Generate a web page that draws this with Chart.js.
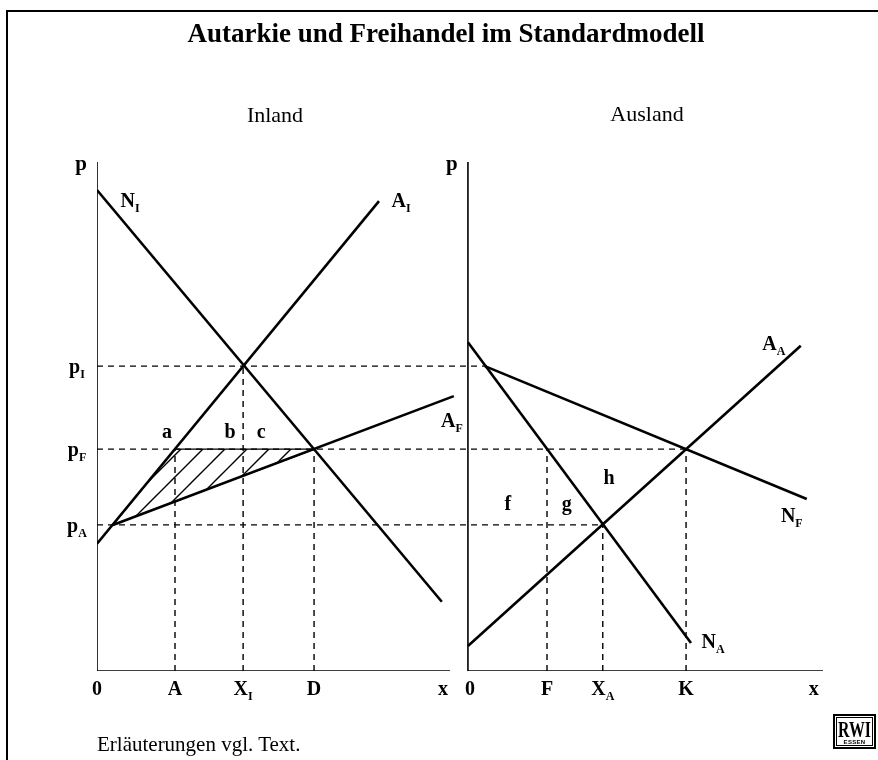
<!DOCTYPE html>
<html><head><meta charset="utf-8">
<script src="https://cdn.jsdelivr.net/npm/chart.js@4.4.1/dist/chart.umd.min.js"></script>
<style>
html,body{margin:0;padding:0;background:#fff;overflow:hidden;}
#wrap{position:relative;width:878px;height:760px;overflow:hidden;background:#fff;}
#c{position:absolute;left:0;top:0;}
.t{position:absolute;font-family:'Liberation Serif','Times New Roman',serif;color:#000;white-space:nowrap;line-height:1;}
#frame{position:absolute;left:6px;top:10px;width:900px;height:800px;border-left:2px solid #000;border-top:2px solid #000;}
#rwi{position:absolute;left:833px;top:714px;width:43px;height:35px;border:2px solid #000;box-sizing:border-box;background:#fff;overflow:hidden;}
#rwi .in{position:absolute;left:1px;top:1px;right:1px;bottom:1px;border:1px solid #000;}
#rwi .big{position:absolute;left:-11px;width:61px;top:1px;text-align:center;font:bold 24px 'Liberation Serif',serif;line-height:1;transform:scaleX(0.66);transform-origin:50% 0;}
#rwi .sm{position:absolute;left:0;width:39px;top:23px;text-align:center;font:bold 6px 'Liberation Sans',sans-serif;line-height:1;letter-spacing:0.3px;}
</style></head>
<body>
<div id="wrap">
<canvas id="c" width="878" height="760"></canvas>
<div id="frame"></div>
<div class="t" style="left:46px;width:800px;top:20px;text-align:center;font-size:27px;font-weight:bold;">Autarkie und Freihandel im Standardmodell</div>
<div class="t" style="left:175px;width:200px;top:104px;text-align:center;font-size:22px;">Inland</div>
<div class="t" style="left:547px;width:200px;top:103px;text-align:center;font-size:22px;">Ausland</div>
<div class="t" style="left:97px;top:734px;font-size:21px;">Erläuterungen vgl. Text.</div>
<div id="rwi"><div class="in"></div><div class="big">RWI</div><div class="sm">ESSEN</div></div>
</div>
<script>
// ---------- DATA (panel-local units: quantity x, price p) ----------
// price levels (shared by both panels)
const priceLevels = [5.99, 4.36, 2.87];          // p_I, p_F, p_A
const priceMain   = ['p', 'p', 'p'];
const priceSub    = ['I', 'F', 'A'];

// Inland panel quantities
const inlandTicks    = [0, 2.21, 4.14, 6.15, 9.8];
const inlandTickMain = ['0', 'A', 'X', 'D', 'x'];
const inlandTickSub  = ['', '', 'I', '', ''];

// Ausland panel quantities
const auslandTicks    = [0, 2.24, 3.82, 6.18, 9.8];
const auslandTickMain = ['0', 'F', 'X', 'K', 'x'];
const auslandTickSub  = ['', '', 'A', '', ''];

// curves (start, end)
const curveNI = [[0, 9.45], [9.77, 1.36]];     // Nachfrage Inland
const curveAI = [[0, 2.50], [7.99, 9.23]];     // Angebot Inland
const curveAF = [[0.45, 2.87], [10.11, 5.40]]; // Angebot bei Freihandel
const curveNA = [[0, 6.46], [6.32, 0.55]];     // Nachfrage Ausland
const curveAA = [[0, 0.49], [9.43, 6.39]];     // Angebot Ausland
const curveNF = [[0.48, 5.99], [9.60, 3.38]];  // Nachfrage bei Freihandel

// hatched area (Inland)
const hatchTriangle = [[0.45, 2.87], [2.21, 4.36], [6.15, 4.36], [0.45, 2.87]];

// axis extents
const yTop = 10;
const inlandXMax = 10.0;
const auslandXMax = 10.06;

// ---------- LAYOUT CONSTANTS ----------
const OFF = 10.51;          // Ausland origin on the shared x scale
const X_MAX = 20.57;
const FONT = "'Liberation Serif','Times New Roman',serif";

const pts = (arr, off) => arr.map(([x, y]) => ({x: x + (off || 0), y}));

function ds(data, width, dash, extra) {
  return Object.assign({
    data, borderColor: '#000', borderWidth: width, borderDash: dash || [],
    pointRadius: 0, pointHoverRadius: 0, fill: false, tension: 0,
    borderCapStyle: 'butt', borderJoinStyle: 'miter'
  }, extra || {});
}

// hatch pattern
const pc = document.createElement('canvas');
pc.width = 22; pc.height = 22;
const pg = pc.getContext('2d');
pg.strokeStyle = '#000'; pg.lineWidth = 1.4;
pg.beginPath();
pg.moveTo(0, 22); pg.lineTo(22, 0);
pg.moveTo(-11, 11); pg.lineTo(11, -11);
pg.moveTo(11, 33); pg.lineTo(33, 11);
pg.stroke();
const mainCtx = document.getElementById('c').getContext('2d');
const hatch = mainCtx.createPattern(pc, 'repeat');
if (hatch.setTransform) hatch.setTransform(new DOMMatrix([1, 0, 0, 1, 14, 0]));

const [pI, pF, pA] = priceLevels;
const xA = inlandTicks[1], xXI = inlandTicks[2], xD = inlandTicks[3];
const xF = auslandTicks[1], xXA = auslandTicks[2], xK = auslandTicks[3];

const DASH = [6, 5];
const datasets = [
  ds(pts(curveNI), 2.6),
  ds(pts(curveAI), 2.6),
  ds(pts(curveAF), 2.6),
  ds(pts(curveNA, OFF), 2.6),
  ds(pts(curveAA, OFF), 2.6),
  ds(pts(curveNF, OFF), 2.6),
  ds(pts(hatchTriangle), 1.4, [], {fill: 'shape', backgroundColor: hatch}),
  // axes
  ds([{x: 0, y: yTop}, {x: 0, y: 0}, {x: inlandXMax, y: 0}], 1.6),
  ds([{x: OFF, y: yTop}, {x: OFF, y: 0}, {x: OFF + auslandXMax, y: 0}], 1.6),
  // horizontal guides
  ds([{x: 0, y: pI}, {x: OFF + curveNF[0][0], y: pI}], 1.4, DASH),
  ds([{x: 0, y: pF}, {x: OFF + xK, y: pF}], 1.4, DASH),
  ds([{x: 0, y: pA}, {x: OFF + xXA, y: pA}], 1.4, DASH),
  // vertical guides
  ds([{x: xA, y: 0}, {x: xA, y: pF}], 1.4, DASH),
  ds([{x: xXI, y: 0}, {x: xXI, y: pI}], 1.4, DASH),
  ds([{x: xD, y: 0}, {x: xD, y: pF}], 1.4, DASH),
  ds([{x: OFF + xF, y: 0}, {x: OFF + xF, y: pF}], 1.4, DASH),
  ds([{x: OFF + xXA, y: 0}, {x: OFF + xXA, y: pA}], 1.4, DASH),
  ds([{x: OFF + xK, y: 0}, {x: OFF + xK, y: pF}], 1.4, DASH)
];

function txt(ctx, main, sub, cx, cy, size, align, bold) {
  const w = bold === false ? '' : 'bold ';
  const ss = Math.round(size * 0.62);
  ctx.font = w + size + 'px ' + FONT;
  const wm = ctx.measureText(main).width;
  ctx.font = w + ss + 'px ' + FONT;
  const ws = sub ? ctx.measureText(sub).width : 0;
  const tw = wm + ws;
  let x0 = align === 'right' ? cx - tw : align === 'left' ? cx : cx - tw / 2;
  const base = cy + size * 0.33;
  ctx.textAlign = 'left'; ctx.textBaseline = 'alphabetic'; ctx.fillStyle = '#000';
  ctx.font = w + size + 'px ' + FONT;
  ctx.fillText(main, x0, base);
  if (sub) { ctx.font = w + ss + 'px ' + FONT; ctx.fillText(sub, x0 + wm, base + size * 0.25); }
}

const labelPlugin = {
  id: 'labels',
  afterDraw(chart) {
    const ctx = chart.ctx, xs = chart.scales.x, ys = chart.scales.y;
    const X = v => xs.getPixelForValue(v), Y = v => ys.getPixelForValue(v);
    ctx.save();
    // axis titles p
    txt(ctx, 'p', '', X(0) - 16, Y(yTop) + 1, 21, 'center');
    txt(ctx, 'p', '', X(OFF) - 16, Y(yTop) + 1, 21, 'center');
    // price tick labels
    priceLevels.forEach((v, i) => txt(ctx, priceMain[i], priceSub[i], X(0) - 20, Y(v), 20, 'center'));
    // quantity tick labels
    const yb = Y(0) + 17;
    inlandTicks.forEach((v, i) => txt(ctx, inlandTickMain[i], inlandTickSub[i], X(v), yb, 20, 'center'));
    auslandTicks.forEach((v, i) => txt(ctx, auslandTickMain[i], auslandTickSub[i], X(OFF + v) + (i === 0 ? 2 : 0), yb, 20, 'center'));
    // curve labels, anchored to curve ends
    const lab = (curve, end, off, main, sub, dx, dy) =>
      txt(ctx, main, sub, X(curve[end][0] + off) + dx, Y(curve[end][1]) + dy, 20, 'center');
    lab(curveNI, 0, 0, 'N', 'I', 33, 10);
    lab(curveAI, 1, 0, 'A', 'I', 22, -1);
    lab(curveAF, 1, 0, 'A', 'F', -2, 24);
    lab(curveAA, 1, OFF, 'A', 'A', -27, -2);
    lab(curveNF, 1, OFF, 'N', 'F', -15, 16);
    lab(curveNA, 1, OFF, 'N', 'A', 22, -2);
    // area labels
    txt(ctx, 'a', '', X(1.98), Y(4.70), 20, 'center');
    txt(ctx, 'b', '', X(3.77), Y(4.70), 20, 'center');
    txt(ctx, 'c', '', X(4.65), Y(4.70), 20, 'center');
    txt(ctx, 'f', '', X(OFF + 1.13), Y(3.30), 20, 'center');
    txt(ctx, 'g', '', X(OFF + 2.80), Y(3.30), 20, 'center');
    txt(ctx, 'h', '', X(OFF + 4.00), Y(3.81), 20, 'center');
    ctx.restore();
  }
};

new Chart(mainCtx, {
  type: 'line',
  data: {datasets},
  options: {
    responsive: false, animation: false, devicePixelRatio: 1,
    layout: {padding: {left: 97, right: 55, top: 162, bottom: 89}},
    plugins: {legend: {display: false}, tooltip: {enabled: false}, title: {display: false}},
    events: [],
    scales: {
      x: {type: 'linear', min: 0, max: X_MAX, display: false},
      y: {type: 'linear', min: 0, max: yTop, display: false}
    }
  },
  plugins: [labelPlugin]
});
</script>
</body></html>
